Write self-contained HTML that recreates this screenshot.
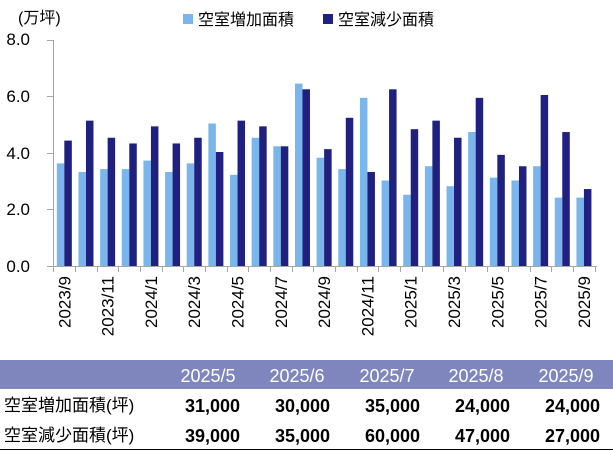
<!DOCTYPE html>
<html><head><meta charset="utf-8"><style>
body{margin:0;background:#fff;width:613px;height:452px;overflow:hidden;font-family:"Liberation Sans","Noto Sans CJK JP",sans-serif}
</style></head><body>
<svg width="613" height="452" xmlns="http://www.w3.org/2000/svg" font-family="Liberation Sans, Noto Sans CJK JP, sans-serif">
<text x="18" y="23" font-size="16" fill="#000">(万坪)</text>
<rect x="183" y="14" width="10" height="10" fill="#7ab6ec"/>
<text x="198" y="25" font-size="16" fill="#000">空室増加面積</text>
<rect x="323" y="14" width="10" height="10" fill="#1f2080"/>
<text x="338" y="25" font-size="16" fill="#000">空室減少面積</text>
<g font-size="17" fill="#000" text-anchor="end">
<text x="30" y="45">8.0</text><text x="30" y="102">6.0</text><text x="30" y="159">4.0</text><text x="30" y="215">2.0</text><text x="30" y="272">0.0</text>
</g>
<g stroke="#a6a6a6" stroke-width="1">
<line x1="53.5" y1="40" x2="53.5" y2="266"/>
<line x1="47" y1="40.5" x2="53" y2="40.5"/><line x1="47" y1="96.5" x2="53" y2="96.5"/><line x1="47" y1="153.5" x2="53" y2="153.5"/><line x1="47" y1="209.5" x2="53" y2="209.5"/><line x1="47" y1="266.5" x2="53" y2="266.5"/>
<line x1="53" y1="266.5" x2="597" y2="266.5"/>
</g>
<g id="bars"></g>
<g id="ticks" stroke="#a6a6a6"></g>
<g id="labels" font-size="17" fill="#000"></g>
<rect x="0" y="360" width="613" height="29" fill="#7e86bd"/>
<g font-size="18" fill="#fff" text-anchor="middle">
<text x="208" y="382">2025/5</text><text x="297" y="382">2025/6</text><text x="387" y="382">2025/7</text><text x="476" y="382">2025/8</text><text x="566" y="382">2025/9</text>
</g>
<g font-size="17" fill="#000">
<text x="4" y="411">空室増加面積(坪)</text><text x="4" y="441">空室減少面積(坪)</text>
</g>
<g font-size="18" fill="#000" font-weight="bold" text-anchor="end">
<text x="240" y="412">31,000</text><text x="330" y="412">30,000</text><text x="420" y="412">35,000</text><text x="510" y="412">24,000</text><text x="600" y="412">24,000</text>
<text x="240" y="442">39,000</text><text x="330" y="442">35,000</text><text x="420" y="442">60,000</text><text x="510" y="442">47,000</text><text x="600" y="442">27,000</text>
</g>
<line x1="0" y1="449.5" x2="613" y2="449.5" stroke="#000"/>
<script>
var L=[3.6,3.3,3.4,3.4,3.7,3.3,3.6,5.0,3.2,4.5,4.2,6.4,3.8,3.4,5.9,3.0,2.5,3.5,2.8,4.7,3.1,3.0,3.5,2.4,2.4];
var D=[4.4,5.1,4.5,4.3,4.9,4.3,4.5,4.0,5.1,4.9,4.2,6.2,4.1,5.2,3.3,6.2,4.8,5.1,4.5,5.9,3.9,3.5,6.0,4.7,2.7];
var labs=["2023/9","2023/11","2024/1","2024/3","2024/5","2024/7","2024/9","2024/11","2025/1","2025/3","2025/5","2025/7","2025/9"];
var ns="http://www.w3.org/2000/svg",b=document.getElementById("bars"),t=document.getElementById("ticks"),lg=document.getElementById("labels");
var s=21.65,x0=53.5,y0=266,k=28.5;
function el(n,a,p){var e=document.createElementNS(ns,n);for(var i in a)e.setAttribute(i,a[i]);p.appendChild(e);return e;}
for(var i=0;i<25;i++){var c=x0+s*i+s/2;
el("rect",{x:c-7.5,y:y0-L[i]*k,width:7.5,height:L[i]*k,fill:"#7ab6ec"},b);
el("rect",{x:c,y:y0-D[i]*k,width:7.5,height:D[i]*k,fill:"#1f2080"},b);
var tx=Math.round(x0+s*(i+1))+0.5;el("line",{x1:tx,y1:266,x2:tx,y2:272},t);}
el("line",{x1:53.5,y1:266,x2:53.5,y2:272},t);
for(var j=0;j<13;j++){var c=x0+s*(2*j)+s/2+6;var e=el("text",{x:0,y:0,"text-anchor":"end",transform:"translate("+c+",276) rotate(-90)"},lg);e.textContent=labs[j];}
</script>
</svg>
</body></html>
